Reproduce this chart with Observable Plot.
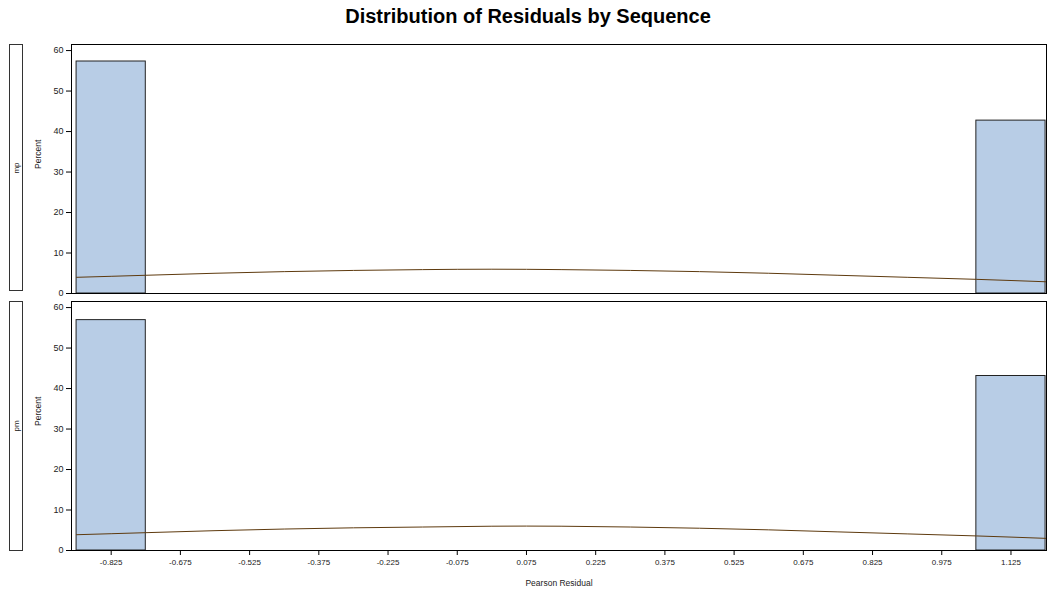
<!DOCTYPE html>
<html>
<head>
<meta charset="utf-8">
<script src="https://cdn.jsdelivr.net/npm/d3@7"></script>
<script src="https://cdn.jsdelivr.net/npm/@observablehq/plot@0.6"></script>
<style>
  html, body { margin: 0; padding: 0; background: #fff; }
  body { width: 1048px; height: 597px; position: relative; overflow: hidden; font-family: "Liberation Sans", Arial, sans-serif; }
  #title { position: absolute; left: 0; width: 1056px; top: 5px; text-align: center; font-size: 20px; font-weight: bold; color: #000; }
  .strip { position: absolute; left: 9px; width: 12px; border: 1px solid #333; background: #fff; box-sizing: content-box; }
  .strip span { position: absolute; left: 50%; top: 50%; transform: translate(-50%, -50%) rotate(-90deg); font-size: 8px; color: #222; white-space: nowrap; }
  .panel { position: absolute; left: 0; }
  .panel svg { overflow: visible; }
</style>
</head>
<body>
<div id="title">Distribution of Residuals by Sequence</div>
<div class="strip" style="top:44px;height:245px"><span>mp</span></div>
<div class="strip" style="top:301px;height:248px"><span>pm</span></div>
<div id="p1" class="panel" style="top:36px"></div>
<div id="p2" class="panel" style="top:297px"></div>
<script>
// Data
const sequences = ["mp", "pm"];
const binStarts = [-0.9, 1.05];
const binWidth = 0.15;
const percentMp = [57.3, 42.7];
const percentPm = [56.9, 43.1];
const curveX = [-0.9, -0.75, -0.6, -0.45, -0.3, -0.15, 0.0, 0.15, 0.3, 0.45, 0.6, 0.75, 0.9, 1.05, 1.2];
const curveMp = [4.0, 4.5, 5.0, 5.4, 5.7, 5.9, 6.0, 5.9, 5.7, 5.4, 5.0, 4.5, 4.0, 3.5, 2.9];
const curvePm = [3.9, 4.4, 4.9, 5.3, 5.6, 5.8, 6.0, 6.0, 5.8, 5.5, 5.1, 4.6, 4.1, 3.6, 3.0];
const xTicks = [-0.825, -0.675, -0.525, -0.375, -0.225, -0.075, 0.075, 0.225, 0.375, 0.525, 0.675, 0.825, 0.975, 1.125];
const yTicks = [0, 10, 20, 30, 40, 50, 60];

const barFill = "#B8CDE6";
const curveColor = "#5E3A0E";
const xDomain = [-0.911, 1.202];
const yDomain = [0, 61.5];

function panel(percent, curve, showX) {
  const bars = binStarts.map((s, i) => ({x1: s, x2: s + binWidth, y: percent[i]}));
  const line = curveX.map((x, i) => ({x, y: curve[i]}));
  const marks = [
    Plot.rectY(bars, {x1: "x1", x2: "x2", y: "y", fill: barFill, stroke: "#222", strokeWidth: 1}),
    Plot.line(line, {x: "x", y: "y", stroke: curveColor, strokeWidth: 1, curve: "natural"}),
    Plot.frame({stroke: "#000", strokeWidth: 1}),
    Plot.axisY(yTicks, {tickSize: 5, tickPadding: 3, fontSize: 9, label: null, stroke: "#000", fill: "#222"}),
    Plot.text(["Percent"], {frameAnchor: "left", dx: -33, rotate: -90, fontSize: 8.5, fill: "#222"})
  ];
  if (showX) {
    marks.push(Plot.axisX(xTicks, {tickSize: 5, tickPadding: 4, fontSize: 8, label: null, tickFormat: d => d.toFixed(3), stroke: "#000", fill: "#222"}));
    marks.push(Plot.text(["Pearson Residual"], {frameAnchor: "bottom", dy: 35, fontSize: 8.5, fill: "#222"}));
  }
  return Plot.plot({
    width: 1048,
    height: showX ? 300 : 261,
    marginLeft: 71,
    marginRight: 2,
    marginTop: showX ? 4 : 8,
    marginBottom: showX ? 47 : 4,
    style: {fontFamily: "'Liberation Sans', Arial, sans-serif", background: "transparent", overflow: "visible"},
    x: {domain: xDomain, axis: null},
    y: {domain: yDomain, axis: null},
    marks
  });
}

document.getElementById("p1").append(panel(percentMp, curveMp, false));
document.getElementById("p2").append(panel(percentPm, curvePm, true));
</script>
</body>
</html>
